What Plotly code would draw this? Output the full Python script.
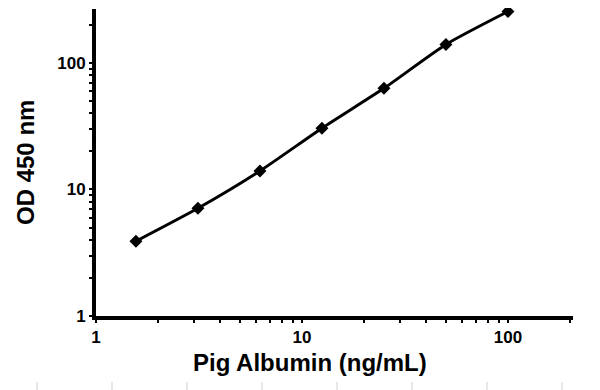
import math
import plotly.graph_objects as go

# Data
concentration = [1.5625, 3.125, 6.25, 12.5, 25, 50, 100]
od450 = [3.9, 7.1, 14.0, 30.5, 63, 140, 255]

x_tick_vals = [1, 2, 3, 4, 5, 6, 7, 8, 9, 10, 20, 30, 40, 50, 60, 70, 80, 90, 100, 200]
x_tick_text = ["1", "", "", "", "", "", "", "", "", "10", "", "", "", "", "", "", "", "", "100", ""]
y_tick_vals = [1, 2, 3, 4, 5, 6, 7, 8, 9, 10, 20, 30, 40, 50, 60, 70, 80, 90, 100, 200]
y_tick_text = ["1", "", "", "", "", "", "", "", "", "10", "", "", "", "", "", "", "", "", "100", ""]

x_title = "Pig Albumin (ng/mL)"
y_title = "OD 450 nm"

fig = go.Figure()
fig.add_trace(go.Scatter(
    x=concentration, y=od450,
    mode="lines+markers",
    line=dict(color="black", width=3, shape="spline", smoothing=0.6),
    marker=dict(symbol="diamond", size=10, color="black"),
    showlegend=False,
    cliponaxis=False,
))

font_family = "Liberation Sans, Arial, sans-serif"
tick_font = dict(family=font_family, size=17, color="black", weight="bold")
title_font = dict(family=font_family, size=24, color="black", weight="bold")

fig.update_xaxes(
    type="log",
    range=[0, math.log10(207)],
    tickvals=x_tick_vals, ticktext=x_tick_text,
    ticks="outside", ticklen=3, tickwidth=2, tickcolor="black",
    showline=True, linecolor="black", linewidth=4,
    showgrid=False, zeroline=False, automargin=False,
    tickfont=tick_font,
)
fig.update_yaxes(
    type="log",
    range=[0, math.log10(267)],
    tickvals=y_tick_vals, ticktext=y_tick_text,
    ticks="outside", ticklen=3, tickwidth=2, tickcolor="black",
    showline=True, linecolor="black", linewidth=4,
    showgrid=False, zeroline=False, automargin=False,
    tickfont=tick_font,
)

# page body has an 8px offset; figure is sized to fit the window
W, H = 592, 382
ml, mt = 88, 1
pw, ph = 477, 307
mr, mb = W - ml - pw, H - mt - ph

def px_to_paper_x(px):
    return (px - ml) / pw

def px_to_paper_y(py):
    return (mt + ph - py) / ph

annotations = [
    dict(text=x_title, xref="paper", yref="paper",
         x=px_to_paper_x(302), y=px_to_paper_y(354),
         xanchor="center", yanchor="middle", showarrow=False, font=title_font),
    dict(text=y_title, xref="paper", yref="paper",
         x=px_to_paper_x(17), y=px_to_paper_y(155), textangle=-90,
         xanchor="center", yanchor="middle", showarrow=False, font=title_font),
]

# faint page separators at bottom
shapes = []
for px in [29, 104, 179, 254, 329, 404, 479, 554]:
    xp = px_to_paper_x(px)
    shapes.append(dict(type="line", xref="paper", yref="paper", x0=xp, x1=xp,
                       y0=px_to_paper_y(374), y1=px_to_paper_y(382),
                       line=dict(color="#cfcfcf", width=1)))

fig.update_layout(
    width=W, height=H,
    margin=dict(l=ml, r=mr, t=mt, b=mb),
    plot_bgcolor="white", paper_bgcolor="white",
    shapes=shapes, annotations=annotations,
)

fig.write_html("out.html")
